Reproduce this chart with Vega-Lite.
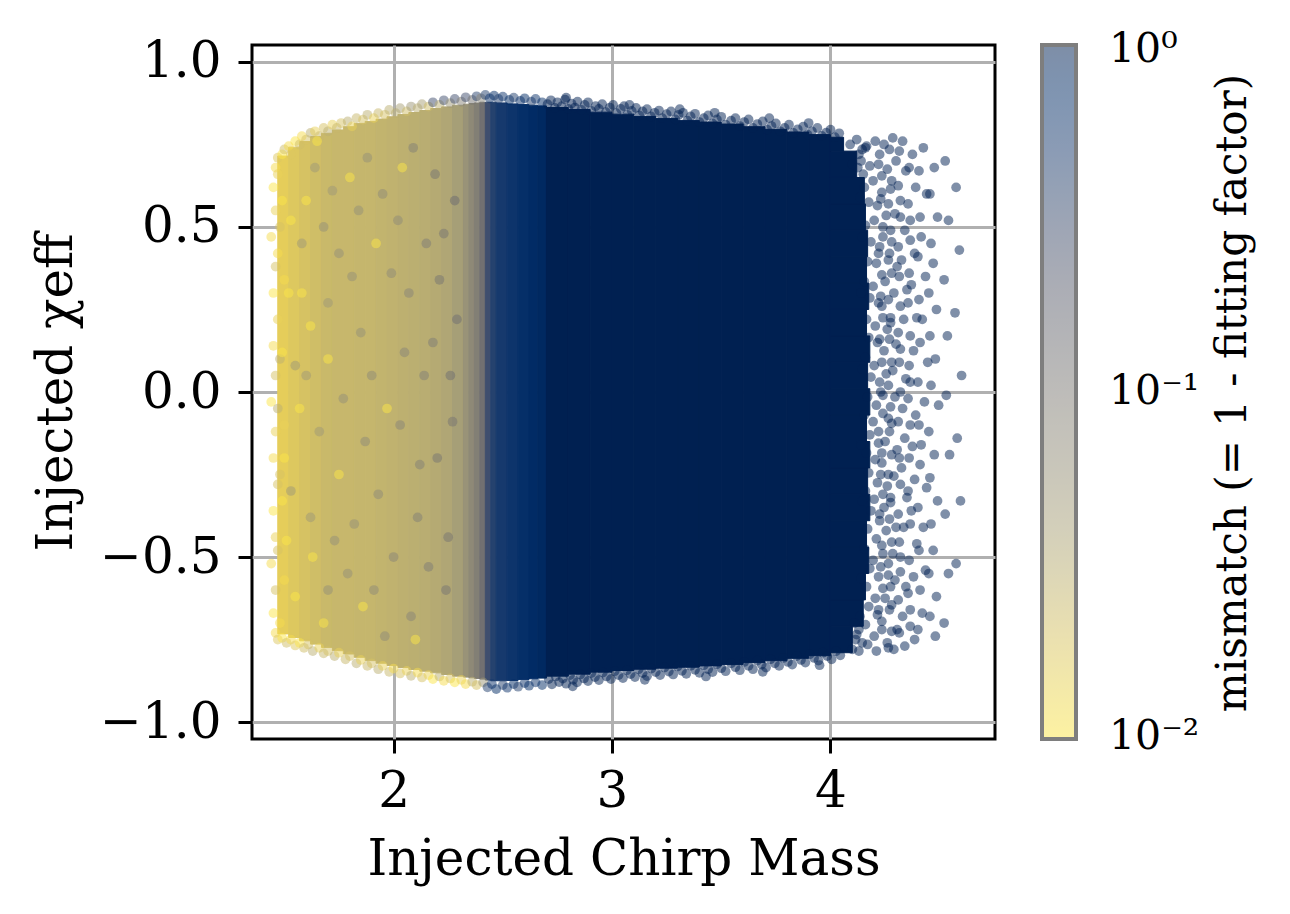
{
"$schema": "https://vega.github.io/schema/vega-lite/v6.json",
"width": 743, "height": 694,
"autosize": "none",
"padding": {"left": 252, "top": 45, "right": 295, "bottom": 175},
"background": "white",
"datasets": {
"bands": [
{"a":1.47,"b":1.52,"lo":-0.733,"hi":0.715,"mm":0.016},
{"a":1.52,"b":1.57,"lo":-0.744,"hi":0.742,"mm":0.018},
{"a":1.57,"b":1.62,"lo":-0.754,"hi":0.759,"mm":0.02},
{"a":1.62,"b":1.67,"lo":-0.764,"hi":0.774,"mm":0.022},
{"a":1.67,"b":1.72,"lo":-0.774,"hi":0.784,"mm":0.024},
{"a":1.72,"b":1.77,"lo":-0.784,"hi":0.794,"mm":0.025},
{"a":1.77,"b":1.82,"lo":-0.794,"hi":0.804,"mm":0.025},
{"a":1.82,"b":1.87,"lo":-0.804,"hi":0.814,"mm":0.026},
{"a":1.87,"b":1.92,"lo":-0.814,"hi":0.82,"mm":0.026},
{"a":1.92,"b":1.97,"lo":-0.822,"hi":0.827,"mm":0.027},
{"a":1.97,"b":2.02,"lo":-0.829,"hi":0.834,"mm":0.028},
{"a":2.02,"b":2.07,"lo":-0.835,"hi":0.841,"mm":0.029},
{"a":2.07,"b":2.12,"lo":-0.841,"hi":0.847,"mm":0.03},
{"a":2.12,"b":2.17,"lo":-0.846,"hi":0.853,"mm":0.031},
{"a":2.17,"b":2.22,"lo":-0.851,"hi":0.859,"mm":0.033},
{"a":2.22,"b":2.27,"lo":-0.856,"hi":0.864,"mm":0.036},
{"a":2.27,"b":2.32,"lo":-0.861,"hi":0.869,"mm":0.042},
{"a":2.32,"b":2.345,"lo":-0.864,"hi":0.872,"mm":0.055},
{"a":2.345,"b":2.37,"lo":-0.866,"hi":0.874,"mm":0.07},
{"a":2.37,"b":2.395,"lo":-0.868,"hi":0.876,"mm":0.09},
{"a":2.395,"b":2.42,"lo":-0.87,"hi":0.878,"mm":0.13},
{"a":2.42,"b":2.445,"lo":-0.873,"hi":0.878,"mm":0.3},
{"a":2.445,"b":2.47,"lo":-0.875,"hi":0.878,"mm":0.42},
{"a":2.47,"b":2.52,"lo":-0.875,"hi":0.876,"mm":0.52},
{"a":2.52,"b":2.57,"lo":-0.874,"hi":0.873,"mm":0.6},
{"a":2.57,"b":2.62,"lo":-0.871,"hi":0.871,"mm":0.68},
{"a":2.62,"b":2.66,"lo":-0.869,"hi":0.869,"mm":0.74},
{"a":2.66,"b":2.7,"lo":-0.867,"hi":0.867,"mm":0.8},
{"a":2.7,"b":2.8,"lo":-0.861,"hi":0.862,"mm":1},
{"a":2.8,"b":2.9,"lo":-0.855,"hi":0.856,"mm":1},
{"a":2.9,"b":3.0,"lo":-0.849,"hi":0.848,"mm":1},
{"a":3.0,"b":3.1,"lo":-0.844,"hi":0.842,"mm":1},
{"a":3.1,"b":3.2,"lo":-0.84,"hi":0.835,"mm":1},
{"a":3.2,"b":3.3,"lo":-0.837,"hi":0.829,"mm":1},
{"a":3.3,"b":3.4,"lo":-0.834,"hi":0.823,"mm":1},
{"a":3.4,"b":3.5,"lo":-0.83,"hi":0.818,"mm":1},
{"a":3.5,"b":3.6,"lo":-0.826,"hi":0.812,"mm":1},
{"a":3.6,"b":3.7,"lo":-0.82,"hi":0.804,"mm":1},
{"a":3.7,"b":3.8,"lo":-0.814,"hi":0.796,"mm":1},
{"a":3.8,"b":3.9,"lo":-0.807,"hi":0.788,"mm":1},
{"a":3.9,"b":4.0,"lo":-0.799,"hi":0.78,"mm":1},
{"a":4.0,"b":4.1,"lo":-0.79,"hi":-0.71,"mm":1},
{"a":4.0,"b":4.15,"lo":-0.71,"hi":-0.63,"mm":1},
{"a":4.0,"b":4.16,"lo":-0.63,"hi":-0.55,"mm":1},
{"a":4.0,"b":4.175,"lo":-0.55,"hi":-0.47,"mm":1},
{"a":4.0,"b":4.165,"lo":-0.47,"hi":-0.39,"mm":1},
{"a":4.0,"b":4.18,"lo":-0.39,"hi":-0.31,"mm":1},
{"a":4.0,"b":4.17,"lo":-0.31,"hi":-0.23,"mm":1},
{"a":4.0,"b":4.18,"lo":-0.23,"hi":-0.15,"mm":1},
{"a":4.0,"b":4.165,"lo":-0.15,"hi":-0.07,"mm":1},
{"a":4.0,"b":4.18,"lo":-0.07,"hi":0.01,"mm":1},
{"a":4.0,"b":4.17,"lo":0.01,"hi":0.09,"mm":1},
{"a":4.0,"b":4.18,"lo":0.09,"hi":0.17,"mm":1},
{"a":4.0,"b":4.165,"lo":0.17,"hi":0.25,"mm":1},
{"a":4.0,"b":4.175,"lo":0.25,"hi":0.33,"mm":1},
{"a":4.0,"b":4.165,"lo":0.33,"hi":0.41,"mm":1},
{"a":4.0,"b":4.17,"lo":0.41,"hi":0.49,"mm":1},
{"a":4.0,"b":4.16,"lo":0.49,"hi":0.57,"mm":1},
{"a":4.0,"b":4.155,"lo":0.57,"hi":0.65,"mm":1},
{"a":4.0,"b":4.12,"lo":0.65,"hi":0.73,"mm":1},
{"a":4.0,"b":4.06,"lo":0.73,"hi":0.772,"mm":1}
],
"pts": [
{"m":1.46,"c":0.68,"mm":0.012},{"m":1.47,"c":0.71,"mm":0.018},{"m":1.49,"c":0.72,"mm":0.01},{"m":1.5,"c":0.735,"mm":0.022},
{"m":1.52,"c":0.745,"mm":0.012},{"m":1.53,"c":0.72,"mm":0.018},{"m":1.55,"c":0.76,"mm":0.01},{"m":1.57,"c":0.75,"mm":0.022},
{"m":1.58,"c":0.775,"mm":0.012},{"m":1.6,"c":0.765,"mm":0.02},{"m":1.62,"c":0.785,"mm":0.03},{"m":1.64,"c":0.79,"mm":0.015},
{"m":1.66,"c":0.775,"mm":0.025},{"m":1.68,"c":0.8,"mm":0.02},{"m":1.7,"c":0.79,"mm":0.03},{"m":1.72,"c":0.81,"mm":0.015},
{"m":1.74,"c":0.8,"mm":0.025},{"m":1.76,"c":0.815,"mm":0.02},{"m":1.79,"c":0.82,"mm":0.03},{"m":1.81,"c":0.805,"mm":0.015},
{"m":1.83,"c":0.83,"mm":0.025},{"m":1.86,"c":0.825,"mm":0.02},{"m":1.88,"c":0.84,"mm":0.03},{"m":1.91,"c":0.83,"mm":0.015},
{"m":1.93,"c":0.845,"mm":0.025},{"m":1.96,"c":0.84,"mm":0.02},{"m":1.98,"c":0.855,"mm":0.03},{"m":2.01,"c":0.845,"mm":0.03},
{"m":2.03,"c":0.86,"mm":0.04},{"m":2.06,"c":0.85,"mm":0.022},{"m":2.08,"c":0.865,"mm":0.05},{"m":2.11,"c":0.86,"mm":0.03},
{"m":2.13,"c":0.872,"mm":0.04},{"m":2.16,"c":0.865,"mm":0.022},{"m":2.18,"c":0.878,"mm":0.3},{"m":2.21,"c":0.87,"mm":0.03},
{"m":2.23,"c":0.884,"mm":0.3},{"m":2.26,"c":0.875,"mm":0.05},{"m":2.28,"c":0.888,"mm":0.3},{"m":2.31,"c":0.88,"mm":0.08},
{"m":2.33,"c":0.893,"mm":0.3},{"m":2.36,"c":0.885,"mm":0.12},{"m":2.38,"c":0.896,"mm":0.4},{"m":2.4,"c":0.89,"mm":0.08},
{"m":2.42,"c":0.9,"mm":0.45},{"m":2.44,"c":0.89,"mm":0.6},{"m":2.46,"c":0.898,"mm":0.75},{"m":2.48,"c":0.888,"mm":0.45},
{"m":2.5,"c":0.895,"mm":0.6},{"m":2.53,"c":0.885,"mm":0.75},{"m":2.55,"c":0.892,"mm":0.45},{"m":2.58,"c":0.882,"mm":0.6},
{"m":2.6,"c":0.89,"mm":0.75},{"m":2.63,"c":0.88,"mm":0.45},{"m":2.65,"c":0.888,"mm":0.6},{"m":2.68,"c":0.878,"mm":0.75},
{"m":2.705,"c":0.872,"mm":1},{"m":2.72,"c":0.884,"mm":1},{"m":2.738,"c":0.861,"mm":1},{"m":2.75,"c":0.878,"mm":1},
{"m":2.77,"c":0.866,"mm":1},{"m":2.785,"c":0.886,"mm":1},{"m":2.8,"c":0.858,"mm":1},{"m":2.815,"c":0.874,"mm":1},
{"m":2.83,"c":0.862,"mm":1},{"m":2.842,"c":0.88,"mm":1},{"m":2.86,"c":0.855,"mm":1},{"m":2.875,"c":0.87,"mm":1},
{"m":2.89,"c":0.878,"mm":1},{"m":2.905,"c":0.852,"mm":1},{"m":2.925,"c":0.866,"mm":1},{"m":2.94,"c":0.858,"mm":1},
{"m":2.955,"c":0.872,"mm":1},{"m":2.972,"c":0.848,"mm":1},{"m":2.99,"c":0.862,"mm":1},{"m":3.005,"c":0.87,"mm":1},
{"m":3.02,"c":0.845,"mm":1},{"m":3.04,"c":0.858,"mm":1},{"m":3.055,"c":0.866,"mm":1},{"m":3.07,"c":0.84,"mm":1},
{"m":3.09,"c":0.852,"mm":1},{"m":3.11,"c":0.861,"mm":1},{"m":3.125,"c":0.838,"mm":1},{"m":3.14,"c":0.85,"mm":1},
{"m":3.16,"c":0.857,"mm":1},{"m":3.178,"c":0.835,"mm":1},{"m":3.195,"c":0.846,"mm":1},{"m":3.215,"c":0.853,"mm":1},
{"m":3.23,"c":0.83,"mm":1},{"m":3.25,"c":0.842,"mm":1},{"m":3.27,"c":0.85,"mm":1},{"m":3.29,"c":0.826,"mm":1},
{"m":3.305,"c":0.84,"mm":1},{"m":3.325,"c":0.846,"mm":1},{"m":3.345,"c":0.822,"mm":1},{"m":3.36,"c":0.835,"mm":1},
{"m":3.38,"c":0.843,"mm":1},{"m":3.4,"c":0.818,"mm":1},{"m":3.42,"c":0.83,"mm":1},{"m":3.44,"c":0.838,"mm":1},
{"m":3.46,"c":0.814,"mm":1},{"m":3.48,"c":0.826,"mm":1},{"m":3.5,"c":0.834,"mm":1},{"m":3.52,"c":0.81,"mm":1},
{"m":3.545,"c":0.822,"mm":1},{"m":3.565,"c":0.83,"mm":1},{"m":3.585,"c":0.806,"mm":1},{"m":3.605,"c":0.818,"mm":1},
{"m":3.625,"c":0.826,"mm":1},{"m":3.645,"c":0.8,"mm":1},{"m":3.665,"c":0.812,"mm":1},{"m":3.69,"c":0.82,"mm":1},
{"m":3.71,"c":0.795,"mm":1},{"m":3.73,"c":0.806,"mm":1},{"m":3.75,"c":0.814,"mm":1},{"m":3.77,"c":0.79,"mm":1},
{"m":3.79,"c":0.8,"mm":1},{"m":3.81,"c":0.81,"mm":1},{"m":3.83,"c":0.785,"mm":1},{"m":3.85,"c":0.796,"mm":1},
{"m":3.875,"c":0.804,"mm":1},{"m":3.895,"c":0.78,"mm":1},{"m":3.915,"c":0.79,"mm":1},{"m":3.94,"c":0.8,"mm":1},
{"m":3.96,"c":0.776,"mm":1},{"m":3.98,"c":0.786,"mm":1},{"m":4.0,"c":0.795,"mm":1},{"m":4.02,"c":0.772,"mm":1},
{"m":4.04,"c":0.784,"mm":1},{"m":2.79,"c":0.892,"mm":1},{"m":3.08,"c":0.87,"mm":1},{"m":3.31,"c":0.857,"mm":1},
{"m":3.47,"c":0.846,"mm":1},{"m":3.72,"c":0.83,"mm":1},{"m":3.9,"c":0.815,"mm":1},

{"m":1.46,"c":-0.73,"mm":0.012},{"m":1.47,"c":-0.75,"mm":0.018},{"m":1.49,"c":-0.745,"mm":0.01},{"m":1.51,"c":-0.76,"mm":0.022},
{"m":1.53,"c":-0.75,"mm":0.012},{"m":1.55,"c":-0.768,"mm":0.018},{"m":1.57,"c":-0.76,"mm":0.01},{"m":1.59,"c":-0.775,"mm":0.022},
{"m":1.61,"c":-0.765,"mm":0.02},{"m":1.63,"c":-0.785,"mm":0.03},{"m":1.66,"c":-0.775,"mm":0.015},{"m":1.68,"c":-0.792,"mm":0.025},
{"m":1.7,"c":-0.785,"mm":0.02},{"m":1.73,"c":-0.8,"mm":0.03},{"m":1.75,"c":-0.79,"mm":0.015},{"m":1.78,"c":-0.81,"mm":0.025},
{"m":1.8,"c":-0.8,"mm":0.02},{"m":1.83,"c":-0.822,"mm":0.03},{"m":1.85,"c":-0.812,"mm":0.015},{"m":1.88,"c":-0.83,"mm":0.025},
{"m":1.9,"c":-0.822,"mm":0.02},{"m":1.93,"c":-0.84,"mm":0.03},{"m":1.95,"c":-0.83,"mm":0.015},{"m":1.98,"c":-0.848,"mm":0.025},
{"m":2.0,"c":-0.838,"mm":0.012},{"m":2.03,"c":-0.853,"mm":0.02},{"m":2.06,"c":-0.845,"mm":0.015},{"m":2.08,"c":-0.86,"mm":0.03},
{"m":2.11,"c":-0.85,"mm":0.012},{"m":2.13,"c":-0.865,"mm":0.02},{"m":2.16,"c":-0.858,"mm":0.015},{"m":2.18,"c":-0.87,"mm":0.01},
{"m":2.21,"c":-0.862,"mm":0.03},{"m":2.23,"c":-0.875,"mm":0.012},{"m":2.26,"c":-0.868,"mm":0.02},{"m":2.28,"c":-0.88,"mm":0.01},
{"m":2.31,"c":-0.872,"mm":0.015},{"m":2.33,"c":-0.885,"mm":0.012},{"m":2.36,"c":-0.878,"mm":0.03},{"m":2.38,"c":-0.888,"mm":0.02},
{"m":2.41,"c":-0.88,"mm":0.05},{"m":2.43,"c":-0.895,"mm":0.45},{"m":2.45,"c":-0.885,"mm":0.6},{"m":2.47,"c":-0.9,"mm":0.75},
{"m":2.5,"c":-0.888,"mm":0.45},{"m":2.52,"c":-0.896,"mm":0.6},{"m":2.55,"c":-0.885,"mm":0.75},{"m":2.57,"c":-0.893,"mm":0.45},
{"m":2.6,"c":-0.882,"mm":0.6},{"m":2.62,"c":-0.89,"mm":0.75},{"m":2.65,"c":-0.88,"mm":0.6},{"m":2.68,"c":-0.888,"mm":0.75},
{"m":2.71,"c":-0.87,"mm":1},{"m":2.725,"c":-0.886,"mm":1},{"m":2.742,"c":-0.862,"mm":1},{"m":2.758,"c":-0.879,"mm":1},
{"m":2.775,"c":-0.868,"mm":1},{"m":2.79,"c":-0.884,"mm":1},{"m":2.808,"c":-0.858,"mm":1},{"m":2.822,"c":-0.872,"mm":1},
{"m":2.84,"c":-0.88,"mm":1},{"m":2.855,"c":-0.856,"mm":1},{"m":2.872,"c":-0.868,"mm":1},{"m":2.89,"c":-0.876,"mm":1},
{"m":2.905,"c":-0.852,"mm":1},{"m":2.922,"c":-0.864,"mm":1},{"m":2.94,"c":-0.873,"mm":1},{"m":2.958,"c":-0.85,"mm":1},
{"m":2.975,"c":-0.862,"mm":1},{"m":2.995,"c":-0.87,"mm":1},{"m":3.012,"c":-0.846,"mm":1},{"m":3.03,"c":-0.858,"mm":1},
{"m":3.05,"c":-0.867,"mm":1},{"m":3.068,"c":-0.843,"mm":1},{"m":3.085,"c":-0.855,"mm":1},{"m":3.105,"c":-0.864,"mm":1},
{"m":3.122,"c":-0.84,"mm":1},{"m":3.14,"c":-0.852,"mm":1},{"m":3.16,"c":-0.861,"mm":1},{"m":3.18,"c":-0.838,"mm":1},
{"m":3.2,"c":-0.849,"mm":1},{"m":3.22,"c":-0.858,"mm":1},{"m":3.24,"c":-0.835,"mm":1},{"m":3.26,"c":-0.847,"mm":1},
{"m":3.28,"c":-0.856,"mm":1},{"m":3.3,"c":-0.832,"mm":1},{"m":3.32,"c":-0.845,"mm":1},{"m":3.34,"c":-0.854,"mm":1},
{"m":3.36,"c":-0.83,"mm":1},{"m":3.38,"c":-0.842,"mm":1},{"m":3.4,"c":-0.851,"mm":1},{"m":3.42,"c":-0.828,"mm":1},
{"m":3.44,"c":-0.84,"mm":1},{"m":3.46,"c":-0.849,"mm":1},{"m":3.48,"c":-0.825,"mm":1},{"m":3.5,"c":-0.837,"mm":1},
{"m":3.52,"c":-0.846,"mm":1},{"m":3.545,"c":-0.822,"mm":1},{"m":3.565,"c":-0.834,"mm":1},{"m":3.585,"c":-0.843,"mm":1},
{"m":3.605,"c":-0.818,"mm":1},{"m":3.625,"c":-0.83,"mm":1},{"m":3.645,"c":-0.84,"mm":1},{"m":3.665,"c":-0.814,"mm":1},
{"m":3.685,"c":-0.826,"mm":1},{"m":3.705,"c":-0.835,"mm":1},{"m":3.725,"c":-0.81,"mm":1},{"m":3.745,"c":-0.822,"mm":1},
{"m":3.765,"c":-0.83,"mm":1},{"m":3.785,"c":-0.806,"mm":1},{"m":3.805,"c":-0.818,"mm":1},{"m":3.825,"c":-0.826,"mm":1},
{"m":3.845,"c":-0.8,"mm":1},{"m":3.865,"c":-0.812,"mm":1},{"m":3.885,"c":-0.82,"mm":1},{"m":3.905,"c":-0.795,"mm":1},
{"m":3.925,"c":-0.806,"mm":1},{"m":3.945,"c":-0.814,"mm":1},{"m":3.965,"c":-0.79,"mm":1},{"m":3.985,"c":-0.8,"mm":1},
{"m":4.005,"c":-0.81,"mm":1},{"m":4.025,"c":-0.786,"mm":1},{"m":4.045,"c":-0.798,"mm":1},{"m":2.82,"c":-0.892,"mm":1},
{"m":3.15,"c":-0.872,"mm":1},{"m":3.43,"c":-0.862,"mm":1},{"m":3.69,"c":-0.848,"mm":1},{"m":3.95,"c":-0.828,"mm":1},

{"m":1.45,"c":0.62,"mm":0.01},{"m":1.46,"c":0.55,"mm":0.015},{"m":1.44,"c":0.47,"mm":0.012},{"m":1.46,"c":0.38,"mm":0.02},
{"m":1.45,"c":0.3,"mm":0.01},{"m":1.47,"c":0.22,"mm":0.015},{"m":1.45,"c":0.14,"mm":0.012},{"m":1.46,"c":0.05,"mm":0.02},
{"m":1.44,"c":-0.03,"mm":0.01},{"m":1.46,"c":-0.12,"mm":0.015},{"m":1.45,"c":-0.2,"mm":0.012},{"m":1.47,"c":-0.28,"mm":0.02},
{"m":1.45,"c":-0.36,"mm":0.01},{"m":1.46,"c":-0.44,"mm":0.015},{"m":1.44,"c":-0.52,"mm":0.012},{"m":1.46,"c":-0.6,"mm":0.02},
{"m":1.45,"c":-0.67,"mm":0.01},{"m":1.47,"c":0.66,"mm":0.015},{"m":1.47,"c":0.42,"mm":0.012},{"m":1.47,"c":-0.05,"mm":0.03},
{"m":1.47,"c":-0.48,"mm":0.02},{"m":1.48,"c":0.1,"mm":0.03},{"m":1.48,"c":-0.7,"mm":0.012},
{"m":1.49,"c":0.58,"mm":0.01},{"m":1.5,"c":0.34,"mm":0.012},{"m":1.49,"c":0.12,"mm":0.01},{"m":1.5,"c":-0.1,"mm":0.015},
{"m":1.49,"c":-0.33,"mm":0.01},{"m":1.5,"c":-0.57,"mm":0.012},{"m":1.48,"c":0.5,"mm":0.02},{"m":1.48,"c":-0.25,"mm":0.02},

{"m":1.58,"c":0.45,"mm":0.05},{"m":1.66,"c":-0.12,"mm":0.05},{"m":1.72,"c":0.61,"mm":0.05},{"m":1.79,"c":-0.55,"mm":0.06},
{"m":1.85,"c":0.18,"mm":0.06},{"m":1.93,"c":-0.31,"mm":0.07},{"m":2.02,"c":0.52,"mm":0.07},{"m":2.08,"c":-0.68,"mm":0.08},
{"m":2.14,"c":0.05,"mm":0.09},{"m":2.21,"c":0.34,"mm":0.12},{"m":2.25,"c":-0.44,"mm":0.12},{"m":1.62,"c":-0.38,"mm":0.05},
{"m":1.7,"c":0.27,"mm":0.05},{"m":1.77,"c":-0.02,"mm":0.06},{"m":1.88,"c":0.71,"mm":0.06},{"m":1.96,"c":-0.74,"mm":0.07},
{"m":2.05,"c":0.12,"mm":0.08},{"m":2.12,"c":-0.22,"mm":0.09},{"m":2.19,"c":0.66,"mm":0.12},{"m":2.27,"c":-0.09,"mm":0.12},
{"m":1.55,"c":0.08,"mm":0.05},{"m":1.64,"c":0.68,"mm":0.05},{"m":1.82,"c":-0.4,"mm":0.06},{"m":1.99,"c":0.36,"mm":0.07},
{"m":2.16,"c":-0.53,"mm":0.1},{"m":2.23,"c":0.48,"mm":0.12},{"m":1.75,"c":0.42,"mm":0.06},{"m":1.91,"c":-0.6,"mm":0.07},
{"m":2.09,"c":0.74,"mm":0.09},{"m":2.29,"c":0.22,"mm":0.14},
{"m":1.53,"c":-0.3,"mm":0.05},{"m":1.6,"c":0.05,"mm":0.05},{"m":1.68,"c":0.5,"mm":0.06},{"m":1.73,"c":-0.45,"mm":0.06},
{"m":1.81,"c":0.35,"mm":0.06},{"m":1.87,"c":-0.15,"mm":0.07},{"m":1.95,"c":0.6,"mm":0.07},{"m":2.0,"c":-0.5,"mm":0.08},
{"m":2.07,"c":0.3,"mm":0.08},{"m":2.11,"c":-0.38,"mm":0.09},{"m":2.18,"c":0.15,"mm":0.1},{"m":2.24,"c":-0.6,"mm":0.12},
{"m":2.28,"c":0.58,"mm":0.15},{"m":2.26,"c":0.05,"mm":0.14},{"m":2.2,"c":-0.2,"mm":0.12},{"m":1.9,"c":0.05,"mm":0.07},
{"m":1.84,"c":0.55,"mm":0.06},{"m":1.7,"c":-0.6,"mm":0.06},{"m":2.03,"c":-0.1,"mm":0.08},{"m":2.15,"c":0.45,"mm":0.1},
{"m":1.52,"c":0.3,"mm":0.01},{"m":1.55,"c":-0.62,"mm":0.01},{"m":1.6,"c":0.58,"mm":0.01},{"m":1.68,"c":-0.7,"mm":0.01},
{"m":1.5,"c":-0.2,"mm":0.01},{"m":1.53,"c":0.52,"mm":0.01},{"m":1.57,"c":-0.05,"mm":0.01},{"m":1.62,"c":0.2,"mm":0.01},
{"m":1.51,"c":-0.45,"mm":0.01},{"m":1.65,"c":0.76,"mm":0.01},
{"m":1.58,"c":0.3,"mm":0.01},{"m":1.63,"c":-0.5,"mm":0.01},{"m":1.7,"c":0.1,"mm":0.01},{"m":1.75,"c":-0.25,"mm":0.01},
{"m":1.8,"c":0.65,"mm":0.01},{"m":1.86,"c":-0.65,"mm":0.01},{"m":1.92,"c":0.45,"mm":0.01},{"m":1.97,"c":-0.05,"mm":0.01},
{"m":2.04,"c":0.68,"mm":0.01},{"m":2.1,"c":-0.75,"mm":0.01},

{"m":4.09,"c":0.75,"mm":1},{"m":4.1,"c":0.69,"mm":1},{"m":4.12,"c":0.765,"mm":1},{"m":4.14,"c":0.7,"mm":1},
{"m":4.13,"c":0.72,"mm":1},{"m":4.15,"c":0.66,"mm":1},{"m":4.16,"c":0.74,"mm":1},{"m":4.125,"c":0.68,"mm":1},
{"m":4.145,"c":0.735,"mm":1},{"m":4.115,"c":-0.75,"mm":1},{"m":4.13,"c":-0.72,"mm":1},{"m":4.145,"c":-0.76,"mm":1},
{"m":4.11,"c":-0.7,"mm":1},
{"m":4.135,"c":0.59,"mm":1},{"m":4.145,"c":0.47,"mm":1},{"m":4.14,"c":0.3,"mm":1},{"m":4.145,"c":0.07,"mm":1},
{"m":4.14,"c":-0.16,"mm":1},{"m":4.145,"c":-0.33,"mm":1},{"m":4.14,"c":-0.565,"mm":1},{"m":4.135,"c":-0.68,"mm":1},
{"m":4.12,"c":-0.735,"mm":1},{"m":4.13,"c":-0.785,"mm":1},{"m":4.1,"c":-0.78,"mm":1},
{"m":4.165,"c":0.745,"mm":1},{"m":4.18,"c":0.685,"mm":1},{"m":4.155,"c":0.62,"mm":1},{"m":4.175,"c":0.575,"mm":1},
{"m":4.16,"c":0.505,"mm":1},{"m":4.185,"c":0.455,"mm":1},{"m":4.17,"c":0.395,"mm":1},{"m":4.155,"c":0.335,"mm":1},
{"m":4.18,"c":0.285,"mm":1},{"m":4.165,"c":0.22,"mm":1},{"m":4.175,"c":0.165,"mm":1},{"m":4.16,"c":0.105,"mm":1},
{"m":4.185,"c":0.045,"mm":1},{"m":4.17,"c":-0.015,"mm":1},{"m":4.155,"c":-0.07,"mm":1},{"m":4.18,"c":-0.13,"mm":1},
{"m":4.165,"c":-0.185,"mm":1},{"m":4.175,"c":-0.245,"mm":1},{"m":4.16,"c":-0.3,"mm":1},{"m":4.185,"c":-0.36,"mm":1},
{"m":4.17,"c":-0.415,"mm":1},{"m":4.155,"c":-0.475,"mm":1},{"m":4.18,"c":-0.535,"mm":1},{"m":4.165,"c":-0.59,"mm":1},
{"m":4.175,"c":-0.65,"mm":1},{"m":4.16,"c":-0.705,"mm":1},{"m":4.17,"c":-0.765,"mm":1},
{"m":4.205,"c":0.76,"mm":1},{"m":4.22,"c":0.69,"mm":1},{"m":4.195,"c":0.64,"mm":1},{"m":4.215,"c":0.565,"mm":1},
{"m":4.2,"c":0.52,"mm":1},{"m":4.225,"c":0.44,"mm":1},{"m":4.21,"c":0.39,"mm":1},{"m":4.195,"c":0.32,"mm":1},
{"m":4.22,"c":0.27,"mm":1},{"m":4.205,"c":0.2,"mm":1},{"m":4.215,"c":0.15,"mm":1},{"m":4.2,"c":0.08,"mm":1},
{"m":4.225,"c":0.03,"mm":1},{"m":4.21,"c":-0.04,"mm":1},{"m":4.195,"c":-0.09,"mm":1},{"m":4.22,"c":-0.155,"mm":1},
{"m":4.205,"c":-0.205,"mm":1},{"m":4.215,"c":-0.275,"mm":1},{"m":4.2,"c":-0.325,"mm":1},{"m":4.225,"c":-0.39,"mm":1},
{"m":4.21,"c":-0.445,"mm":1},{"m":4.195,"c":-0.51,"mm":1},{"m":4.22,"c":-0.56,"mm":1},{"m":4.205,"c":-0.625,"mm":1},
{"m":4.215,"c":-0.675,"mm":1},{"m":4.2,"c":-0.74,"mm":1},{"m":4.21,"c":-0.785,"mm":1},
{"m":4.225,"c":0.72,"mm":1},{"m":4.235,"c":0.655,"mm":1},{"m":4.23,"c":0.585,"mm":1},{"m":4.24,"c":0.5,"mm":1},
{"m":4.22,"c":0.42,"mm":1},{"m":4.235,"c":0.355,"mm":1},{"m":4.23,"c":0.29,"mm":1},{"m":4.24,"c":0.225,"mm":1},
{"m":4.225,"c":0.16,"mm":1},{"m":4.235,"c":0.09,"mm":1},{"m":4.23,"c":0.0,"mm":1},{"m":4.24,"c":-0.065,"mm":1},
{"m":4.22,"c":-0.12,"mm":1},{"m":4.235,"c":-0.185,"mm":1},{"m":4.23,"c":-0.25,"mm":1},{"m":4.24,"c":-0.31,"mm":1},
{"m":4.225,"c":-0.37,"mm":1},{"m":4.235,"c":-0.465,"mm":1},{"m":4.23,"c":-0.53,"mm":1},{"m":4.24,"c":-0.595,"mm":1},
{"m":4.22,"c":-0.66,"mm":1},{"m":4.235,"c":-0.72,"mm":1},
{"m":4.245,"c":0.75,"mm":1},{"m":4.26,"c":0.675,"mm":1},{"m":4.235,"c":0.605,"mm":1},{"m":4.255,"c":0.535,"mm":1},
{"m":4.24,"c":0.47,"mm":1},{"m":4.265,"c":0.4,"mm":1},{"m":4.25,"c":0.335,"mm":1},{"m":4.235,"c":0.26,"mm":1},
{"m":4.26,"c":0.19,"mm":1},{"m":4.245,"c":0.125,"mm":1},{"m":4.255,"c":0.055,"mm":1},{"m":4.24,"c":-0.01,"mm":1},
{"m":4.265,"c":-0.08,"mm":1},{"m":4.25,"c":-0.15,"mm":1},{"m":4.235,"c":-0.215,"mm":1},{"m":4.26,"c":-0.285,"mm":1},
{"m":4.245,"c":-0.35,"mm":1},{"m":4.255,"c":-0.42,"mm":1},{"m":4.24,"c":-0.49,"mm":1},{"m":4.265,"c":-0.555,"mm":1},
{"m":4.25,"c":-0.625,"mm":1},{"m":4.235,"c":-0.695,"mm":1},{"m":4.26,"c":-0.76,"mm":1},
{"m":4.27,"c":0.735,"mm":1},{"m":4.28,"c":0.64,"mm":1},{"m":4.265,"c":0.57,"mm":1},{"m":4.275,"c":0.49,"mm":1},
{"m":4.27,"c":0.42,"mm":1},{"m":4.28,"c":0.36,"mm":1},{"m":4.265,"c":0.28,"mm":1},{"m":4.275,"c":0.21,"mm":1},
{"m":4.27,"c":0.16,"mm":1},{"m":4.28,"c":0.09,"mm":1},{"m":4.265,"c":0.02,"mm":1},{"m":4.275,"c":-0.045,"mm":1},
{"m":4.27,"c":-0.12,"mm":1},{"m":4.28,"c":-0.19,"mm":1},{"m":4.265,"c":-0.25,"mm":1},{"m":4.275,"c":-0.32,"mm":1},
{"m":4.27,"c":-0.385,"mm":1},{"m":4.28,"c":-0.455,"mm":1},{"m":4.265,"c":-0.52,"mm":1},{"m":4.275,"c":-0.59,"mm":1},
{"m":4.27,"c":-0.66,"mm":1},{"m":4.28,"c":-0.725,"mm":1},{"m":4.265,"c":-0.775,"mm":1},
{"m":4.285,"c":0.77,"mm":1},{"m":4.3,"c":0.7,"mm":1},{"m":4.275,"c":0.615,"mm":1},{"m":4.295,"c":0.54,"mm":1},
{"m":4.28,"c":0.455,"mm":1},{"m":4.305,"c":0.38,"mm":1},{"m":4.29,"c":0.3,"mm":1},{"m":4.275,"c":0.225,"mm":1},
{"m":4.3,"c":0.145,"mm":1},{"m":4.285,"c":0.065,"mm":1},{"m":4.295,"c":-0.015,"mm":1},{"m":4.28,"c":-0.095,"mm":1},
{"m":4.305,"c":-0.175,"mm":1},{"m":4.29,"c":-0.255,"mm":1},{"m":4.275,"c":-0.335,"mm":1},{"m":4.3,"c":-0.41,"mm":1},
{"m":4.285,"c":-0.49,"mm":1},{"m":4.295,"c":-0.57,"mm":1},{"m":4.28,"c":-0.645,"mm":1},{"m":4.305,"c":-0.72,"mm":1},
{"m":4.29,"c":-0.78,"mm":1},
{"m":4.315,"c":0.73,"mm":1},{"m":4.31,"c":0.625,"mm":1},{"m":4.32,"c":0.53,"mm":1},{"m":4.31,"c":0.44,"mm":1},
{"m":4.315,"c":0.35,"mm":1},{"m":4.32,"c":0.26,"mm":1},{"m":4.31,"c":0.18,"mm":1},{"m":4.315,"c":0.09,"mm":1},
{"m":4.32,"c":0.0,"mm":1},{"m":4.31,"c":-0.09,"mm":1},{"m":4.315,"c":-0.2,"mm":1},{"m":4.32,"c":-0.28,"mm":1},
{"m":4.31,"c":-0.37,"mm":1},{"m":4.315,"c":-0.455,"mm":1},{"m":4.32,"c":-0.545,"mm":1},{"m":4.31,"c":-0.63,"mm":1},
{"m":4.315,"c":-0.73,"mm":1},
{"m":4.33,"c":0.76,"mm":1},{"m":4.345,"c":0.67,"mm":1},{"m":4.32,"c":0.58,"mm":1},{"m":4.34,"c":0.49,"mm":1},
{"m":4.325,"c":0.4,"mm":1},{"m":4.35,"c":0.31,"mm":1},{"m":4.335,"c":0.22,"mm":1},{"m":4.32,"c":0.13,"mm":1},
{"m":4.345,"c":0.04,"mm":1},{"m":4.33,"c":-0.05,"mm":1},{"m":4.34,"c":-0.14,"mm":1},{"m":4.325,"c":-0.23,"mm":1},
{"m":4.35,"c":-0.32,"mm":1},{"m":4.335,"c":-0.41,"mm":1},{"m":4.32,"c":-0.5,"mm":1},{"m":4.345,"c":-0.59,"mm":1},
{"m":4.33,"c":-0.68,"mm":1},{"m":4.34,"c":-0.77,"mm":1},
{"m":4.36,"c":0.68,"mm":1},{"m":4.355,"c":0.57,"mm":1},{"m":4.365,"c":0.46,"mm":1},{"m":4.36,"c":0.36,"mm":1},
{"m":4.355,"c":0.27,"mm":1},{"m":4.365,"c":0.17,"mm":1},{"m":4.36,"c":0.08,"mm":1},{"m":4.355,"c":-0.02,"mm":1},
{"m":4.365,"c":-0.1,"mm":1},{"m":4.36,"c":-0.2,"mm":1},{"m":4.355,"c":-0.3,"mm":1},{"m":4.365,"c":-0.4,"mm":1},
{"m":4.36,"c":-0.51,"mm":1},{"m":4.355,"c":-0.61,"mm":1},{"m":4.365,"c":-0.71,"mm":1},
{"m":4.375,"c":0.72,"mm":1},{"m":4.39,"c":0.62,"mm":1},{"m":4.365,"c":0.52,"mm":1},{"m":4.385,"c":0.42,"mm":1},
{"m":4.37,"c":0.325,"mm":1},{"m":4.395,"c":0.225,"mm":1},{"m":4.38,"c":0.125,"mm":1},{"m":4.365,"c":0.03,"mm":1},
{"m":4.39,"c":-0.07,"mm":1},{"m":4.375,"c":-0.165,"mm":1},{"m":4.385,"c":-0.265,"mm":1},{"m":4.37,"c":-0.36,"mm":1},
{"m":4.395,"c":-0.46,"mm":1},{"m":4.38,"c":-0.56,"mm":1},{"m":4.365,"c":-0.66,"mm":1},{"m":4.385,"c":-0.75,"mm":1},
{"m":4.405,"c":0.67,"mm":1},{"m":4.41,"c":0.53,"mm":1},{"m":4.4,"c":0.41,"mm":1},{"m":4.405,"c":0.28,"mm":1},
{"m":4.41,"c":0.15,"mm":1},{"m":4.4,"c":0.03,"mm":1},{"m":4.405,"c":-0.1,"mm":1},{"m":4.41,"c":-0.22,"mm":1},
{"m":4.4,"c":-0.35,"mm":1},{"m":4.405,"c":-0.48,"mm":1},{"m":4.41,"c":-0.6,"mm":1},{"m":4.4,"c":-0.72,"mm":1},
{"m":4.425,"c":0.74,"mm":1},{"m":4.44,"c":0.6,"mm":1},{"m":4.415,"c":0.47,"mm":1},{"m":4.435,"c":0.35,"mm":1},
{"m":4.42,"c":0.22,"mm":1},{"m":4.445,"c":0.09,"mm":1},{"m":4.43,"c":-0.03,"mm":1},{"m":4.415,"c":-0.16,"mm":1},
{"m":4.44,"c":-0.29,"mm":1},{"m":4.425,"c":-0.41,"mm":1},{"m":4.435,"c":-0.54,"mm":1},{"m":4.42,"c":-0.67,"mm":1},
{"m":4.455,"c":0.6,"mm":1},{"m":4.46,"c":0.45,"mm":1},{"m":4.45,"c":0.3,"mm":1},{"m":4.455,"c":0.17,"mm":1},
{"m":4.46,"c":0.02,"mm":1},{"m":4.45,"c":-0.12,"mm":1},{"m":4.455,"c":-0.26,"mm":1},{"m":4.46,"c":-0.4,"mm":1},
{"m":4.45,"c":-0.55,"mm":1},{"m":4.455,"c":-0.68,"mm":1},
{"m":4.475,"c":0.68,"mm":1},{"m":4.49,"c":0.53,"mm":1},{"m":4.47,"c":0.39,"mm":1},{"m":4.485,"c":0.25,"mm":1},
{"m":4.48,"c":0.1,"mm":1},{"m":4.495,"c":-0.04,"mm":1},{"m":4.475,"c":-0.19,"mm":1},{"m":4.49,"c":-0.33,"mm":1},
{"m":4.47,"c":-0.48,"mm":1},{"m":4.485,"c":-0.62,"mm":1},{"m":4.48,"c":-0.74,"mm":1},
{"m":4.525,"c":0.7,"mm":1},{"m":4.54,"c":0.52,"mm":1},{"m":4.52,"c":0.34,"mm":1},{"m":4.535,"c":0.17,"mm":1},
{"m":4.53,"c":-0.01,"mm":1},{"m":4.545,"c":-0.19,"mm":1},{"m":4.525,"c":-0.37,"mm":1},{"m":4.54,"c":-0.55,"mm":1},
{"m":4.52,"c":-0.7,"mm":1},
{"m":4.575,"c":0.62,"mm":1},{"m":4.59,"c":0.43,"mm":1},{"m":4.57,"c":0.24,"mm":1},{"m":4.6,"c":0.05,"mm":1},
{"m":4.58,"c":-0.14,"mm":1},{"m":4.595,"c":-0.33,"mm":1},{"m":4.575,"c":-0.52,"mm":1}
]
},
"layer": [
{
"data": {"name": "bands"},
"mark": {"type": "rect", "strokeWidth": 1},
"encoding": {
"x": {"field": "a", "type": "quantitative", "title": "Injected Chirp Mass", "scale": {"domain": [1.352, 4.753], "nice": false, "zero": false}, "axis": {"values": [2, 3, 4], "format": "d"}},
"x2": {"field": "b"},
"y": {"field": "lo", "type": "quantitative", "title": "Injected χeff", "scale": {"domain": [-1.0515, 1.0515], "nice": false, "zero": false}, "axis": {"values": [-1, -0.5, 0, 0.5, 1], "format": ".1f"}},
"y2": {"field": "hi"},
"color": {"field": "mm", "type": "quantitative", "title": "mismatch (= 1 - fitting factor)", "scale": {"type": "log", "domain": [0.01, 1], "scheme": "cividis", "reverse": true, "clamp": true}},
"stroke": {"field": "mm", "type": "quantitative", "scale": {"type": "log", "domain": [0.00999, 1], "scheme": "cividis", "reverse": true, "clamp": true}, "legend": null}
}
},
{
"data": {"name": "pts"},
"mark": {"type": "circle", "size": 95, "opacity": 0.5, "strokeWidth": 0},
"encoding": {
"x": {"field": "m", "type": "quantitative", "title": "Injected Chirp Mass", "axis": {"values": [2, 3, 4], "format": "d"}},
"y": {"field": "c", "type": "quantitative", "title": "Injected χeff", "axis": {"values": [-1, -0.5, 0, 0.5, 1], "format": ".1f"}},
"color": {"field": "mm", "type": "quantitative", "title": "mismatch (= 1 - fitting factor)", "scale": {"type": "log", "domain": [0.01, 1], "scheme": "cividis", "reverse": true, "clamp": true},
"legend": {"type": "gradient", "orient": "none", "legendX": 790, "legendY": 0, "direction": "vertical", "gradientLength": 694, "gradientThickness": 34, "gradientOpacity": 0.5, "gradientStrokeColor": "black", "gradientStrokeWidth": 4, "values": [0.01, 0.1, 1], "labelExpr": "datum.value >= 0.99 ? '10⁰' : datum.value >= 0.099 ? '10⁻¹' : '10⁻²'", "labelFont": "DejaVu Serif", "labelFontSize": 41, "labelColor": "black", "labelOffset": 33, "labelBaseline": "middle", "labelOverlap": false, "titleOrient": "right", "titleAngle": 270, "titleAnchor": "middle", "titleBaseline": "top", "titleLimit": 1000, "titleFont": "DejaVu Serif", "titleFontSize": 42, "titleFontWeight": "normal", "titleColor": "black", "titlePadding": 14, "padding": 0,
"encode": {"labels": {"update": {"dy": {"signal": "datum.value >= 0.99 ? -15 : (datum.value <= 0.011 ? 19 : 0)"}}}, "title": {"update": {"angle": {"value": 270}, "baseline": {"value": "top"}, "align": {"value": "center"}}}}}}
}
}
],
"config": {
"font": "DejaVu Serif",
"view": {"stroke": "black", "strokeWidth": 3},
"axis": {"labelFont": "DejaVu Serif", "titleFont": "DejaVu Serif", "labelFontSize": 50, "titleFontSize": 50, "titleFontWeight": "normal", "labelColor": "black", "titleColor": "black", "tickColor": "black", "tickWidth": 3, "tickSize": 14, "domain": false, "grid": true, "gridColor": "#b0b0b0", "gridWidth": 3, "zindex": 1, "labelFlush": false},
"axisX": {"labelPadding": 13, "titlePadding": 18},
"axisY": {"labelPadding": 17, "titlePadding": 18}
}
}
